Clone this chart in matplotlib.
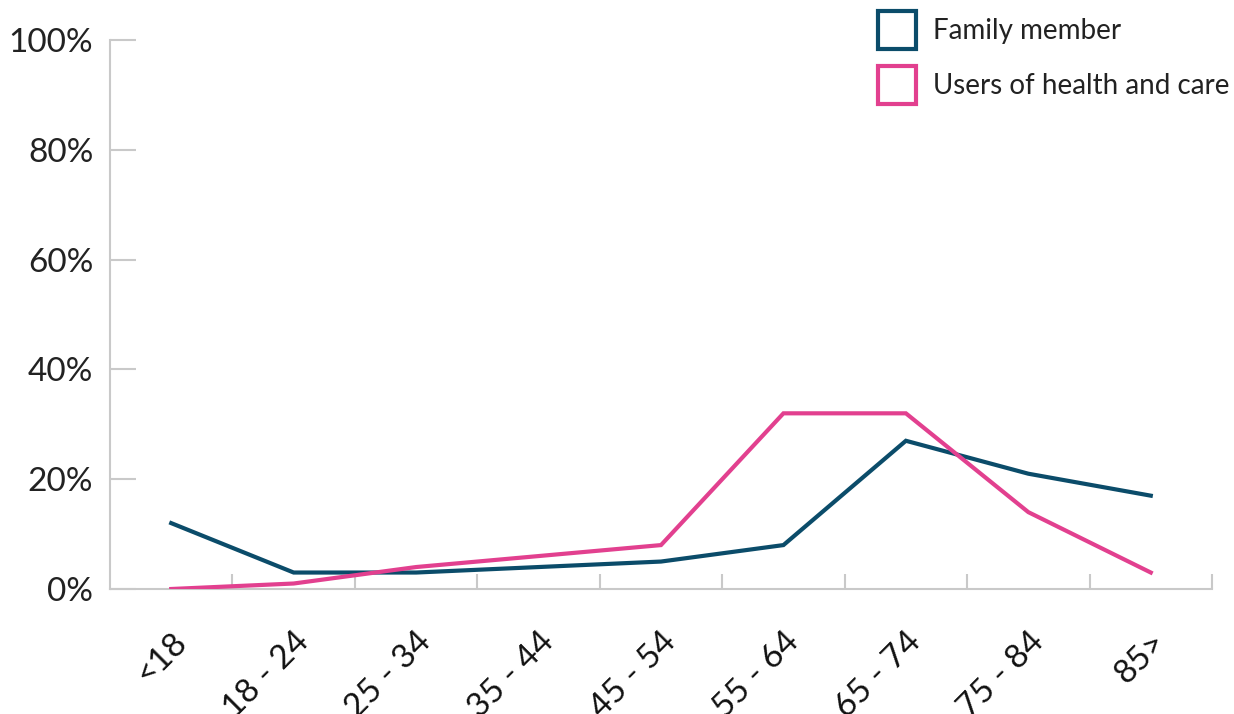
import matplotlib
matplotlib.use("Agg")
import matplotlib.pyplot as plt
from matplotlib.patches import Patch

plt.rcParams['font.family'] = ['Lato', 'DejaVu Sans']

age_groups = ["<18", "18 - 24", "25 - 34", "35 - 44", "45 - 54",
              "55 - 64", "65 - 74", "75 - 84", "85>"]
family_member = [12, 3, 3, 4, 5, 8, 27, 21, 17]
service_users = [0, 1, 4, 6, 8, 32, 32, 14, 3]
y_ticks = [0, 20, 40, 60, 80, 100]

BLUE = "#0b4c6a"
PINK = "#e2408f"
AXIS_GREY = "#c9c9c9"
TEXT = "#222222"

W, H = 1234, 714
fig = plt.figure(figsize=(W / 100, H / 100), dpi=100)
ax = fig.add_axes([110 / W, 1 - 589 / H, (1212 - 110) / W, (589 - 40) / H])

x = list(range(len(age_groups)))
ax.plot(x, family_member, color=BLUE, lw=3, solid_joinstyle="miter", zorder=3)
ax.plot(x, service_users, color=PINK, lw=3, solid_joinstyle="miter", zorder=4)

ax.set_xlim(-0.5, len(age_groups) - 0.5)
ax.set_ylim(0, 100)

for side in ("top", "right"):
    ax.spines[side].set_visible(False)
for side in ("left", "bottom"):
    ax.spines[side].set_color(AXIS_GREY)
    ax.spines[side].set_linewidth(1.5)

ax.set_yticks(y_ticks)
ax.set_yticklabels([f"{v}%" for v in y_ticks], fontsize=24, color=TEXT)
ax.tick_params(axis="y", direction="in", length=19, width=1.5,
               color=AXIS_GREY, pad=12)

ax.set_xticks(x)
ax.set_xticklabels(age_groups, fontsize=24, color="#111111", rotation=45,
                   ha="right", va="top", rotation_mode="anchor")
ax.tick_params(axis="x", which="major", length=0, pad=27)
ax.set_xticks([i + 0.5 for i in x], minor=True)
ax.tick_params(axis="x", which="minor", direction="in", length=11,
               width=1.5, color=AXIS_GREY)

handles = [Patch(facecolor="white", edgecolor=BLUE, linewidth=3),
           Patch(facecolor="white", edgecolor=PINK, linewidth=3)]
fig.legend(handles, ["Family member", "Users of health and care"],
           loc="upper left", bbox_to_anchor=(878 / W, 1 - 11 / H),
           frameon=False, borderpad=0, borderaxespad=0, fontsize=20,
           handlelength=1.37, handleheight=1.73, handletextpad=0.6,
           labelspacing=0.6, labelcolor=TEXT)

fig.savefig("out.png", dpi=100, facecolor="white")
